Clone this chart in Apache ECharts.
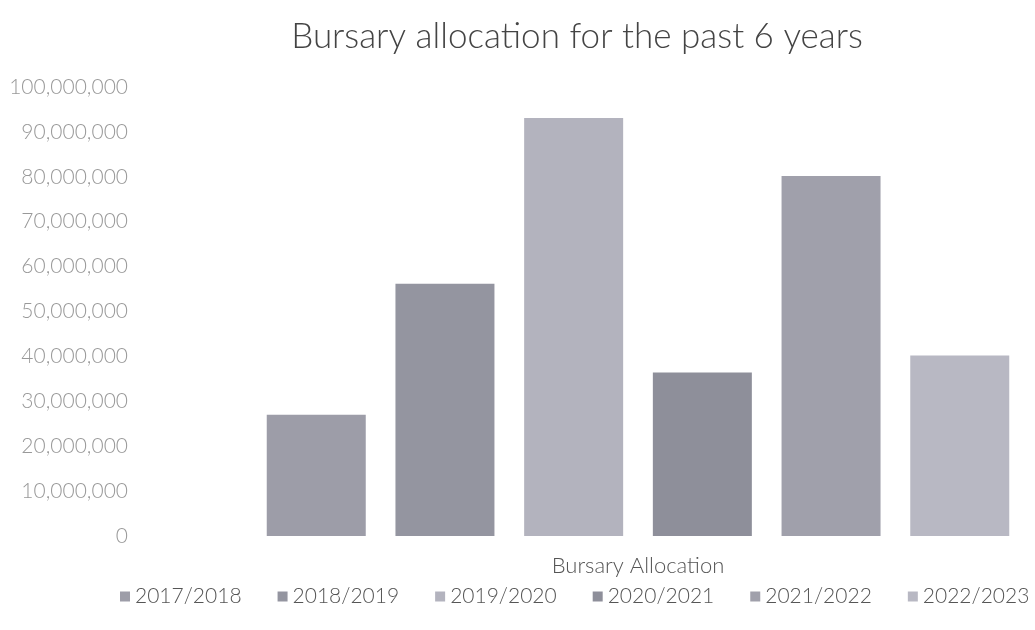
<!DOCTYPE html>
<html>
<head>
<meta charset="utf-8">
<script src="https://cdn.jsdelivr.net/npm/echarts@6/dist/echarts.min.js"></script>
<style>html,body{margin:0;padding:0;background:#fff}#c{width:1035px;height:630px}</style>
</head>
<body>
<div id="c"></div>
<script>
const categories = ['Bursary Allocation'];
const seriesNames = ['2017/2018', '2018/2019', '2019/2020', '2020/2021', '2021/2022', '2022/2023'];
const seriesValues = [27000000, 56200000, 93100000, 36400000, 80200000, 40200000];
const colors = ['#9d9da8', '#9495a0', '#b3b3be', '#8e8f9a', '#a0a0ab', '#b8b8c3'];
const yTicks = { min: 0, max: 100000000, interval: 10000000 };

const font = 'Lato, "Open Sans", sans-serif';
const chart = echarts.init(document.getElementById('c'));
chart.setOption({
  animation: false,
  title: {
    text: 'Bursary allocation for the past 6 years',
    left: 572, top: 14, textAlign: 'center',
    textStyle: { fontFamily: font, fontSize: 35, fontWeight: 300, color: '#444' }
  },
  legend: {
    data: seriesNames,
    left: 120, top: 586, padding: 0, width: 1000,
    itemWidth: 10, itemHeight: 10, itemGap: 36,
    icon: 'rect',
    textStyle: { fontFamily: font, fontSize: 21, fontWeight: 300, color: '#555' }
  },
  grid: { left: 245, right: 4, top: 87, bottom: 94 },
  xAxis: {
    type: 'category', data: categories,
    axisLine: { show: false }, axisTick: { show: false },
    axisLabel: { fontFamily: font, fontSize: 22, fontWeight: 300, color: '#555', margin: 19 }
  },
  yAxis: {
    type: 'value', min: yTicks.min, max: yTicks.max, interval: yTicks.interval,
    splitLine: { show: false }, axisLine: { show: false }, axisTick: { show: false },
    axisLabel: {
      fontFamily: font, fontSize: 21, fontWeight: 300, color: '#999', margin: 117,
      formatter: v => v.toLocaleString('en-US')
    }
  },
  series: seriesNames.map((n, i) => ({
    name: n, type: 'bar', barWidth: 99, barGap: '30%',
    itemStyle: { color: colors[i] },
    data: [seriesValues[i]]
  }))
});
</script>
</body>
</html>
